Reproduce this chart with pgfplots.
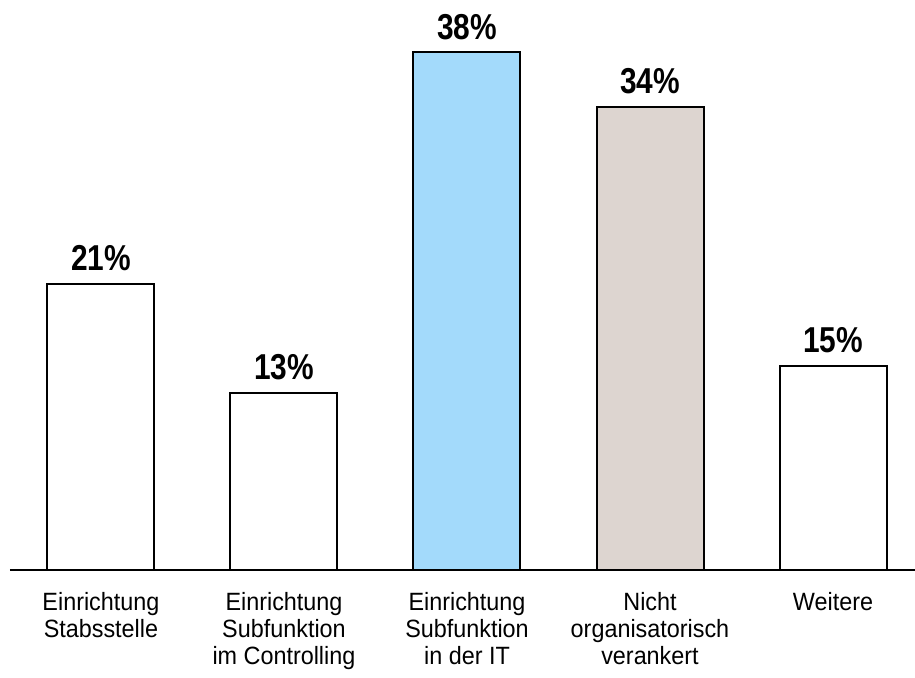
\documentclass[border=0pt]{standalone}
\usepackage{pgfplots}
\pgfplotsset{compat=1.18}
\usepackage{fontspec}
\setmainfont{Liberation Sans}
\newfontfamily\labelfont{Liberation Sans}[FakeStretch=0.935]
\newfontfamily\valuefont{Liberation Sans}[FakeStretch=0.83]
\definecolor{itblue}{HTML}{A3DAFB}
\definecolor{beige}{HTML}{DDD5D0}

\begin{document}
\begin{tikzpicture}
\begin{axis}[
    scale only axis,
    width=905pt, height=545pt,
    xmin=-0.497, xmax=4.448,
    ymin=0, ymax=40,
    axis x line*=bottom,
    axis y line=none,
    x axis line style={line width=1.8pt, -},
    xtick={0,1,2,3,4},
    xticklabels={Einrichtung\\Stabsstelle,
                 Einrichtung\\Subfunktion\\im Controlling,
                 Einrichtung\\Subfunktion\\in der IT,
                 Nicht\\organisatorisch\\verankert,
                 Weitere},
    major tick length=0pt,
    xticklabel style={align=center, anchor=north, yshift=-19pt,
        font=\labelfont\fontsize{25}{27}\selectfont},
    clip=false,
    /pgf/number format/assume math mode=true,
    nodes near coords={\pgfmathprintnumber{\pgfplotspointmeta}\%},
    every node near coord/.append style={anchor=base, yshift=13pt,
        font=\valuefont\bfseries\fontsize{36}{40}\selectfont, text=black},
]
\addplot[ybar, bar width=107pt, bar shift=0pt, draw=black, line width=2pt, fill=white]
    coordinates {(0,21) (1,13) (4,15)};
\addplot[ybar, bar width=107pt, bar shift=0pt, draw=black, line width=2pt, fill=itblue]
    coordinates {(2,38)};
\addplot[ybar, bar width=107pt, bar shift=0pt, draw=black, line width=2pt, fill=beige]
    coordinates {(3,34)};
\end{axis}
\pgfresetboundingbox
\useasboundingbox (current axis.south west) ++(-10pt,-107pt) rectangle ++(915pt,677pt);
\end{tikzpicture}
\end{document}
